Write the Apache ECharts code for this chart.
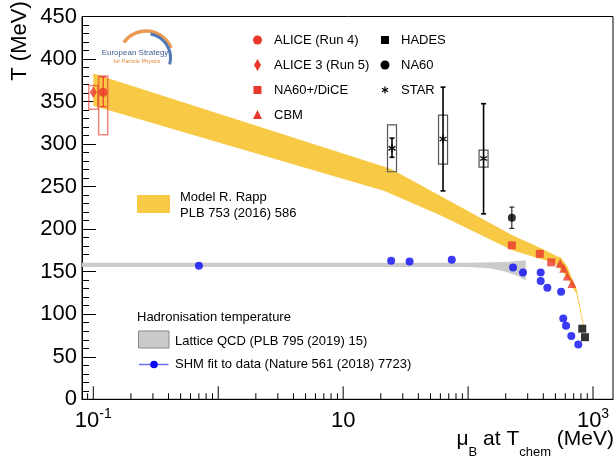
<!DOCTYPE html>
<html><head><meta charset="utf-8">
<script src="https://cdn.jsdelivr.net/npm/echarts@6/dist/echarts.min.js"></script>
<style>html,body{margin:0;padding:0;background:#fff}#c{width:616px;height:462px}</style>
</head><body><div id="c"></div>
<script>
const FONT = '"Liberation Sans", Arial, Helvetica, sans-serif';

// ---------- data (muB in MeV, T in MeV) ----------
const aliceRun4 = [[0.12, 361]];
const aliceRun4Stat = [[0.12, 344, 379]];
const aliceRun4Sys = [[0.12, 311, 380]];
const alice3 = [[0.1, 361]];
const alice3Sys = [[0.1, 341, 369]];
const na60plus = [[224, 181], [375, 171], [463, 161]];
const cbm = [[545, 160], [583, 154], [622, 145], [678, 136]];
const hades = [[820, 83], [862, 73]];
const na60 = [[224, 213.5]];
const na60Stat = [[224, 201, 226]];
const star = [[24.6, 295], [63, 306], [133, 283]];
const starStat = [[24.6, 284.5, 307], [63, 245, 367], [133, 218, 347.5]];
const starSys = [[24.6, 267.5, 322.5], [63, 276.5, 334], [133, 273, 293]];
const shm = [[0.7, 157], [24.2, 163], [34, 162], [74, 164], [229, 155], [275, 149],
             [381, 149], [381, 139], [431, 131], [555, 126.5], [578, 95], [608, 86.5],
             [670, 74.5], [762, 64.5]];
const rappTop = [[0.1, 383], [24, 271], [58.7, 240], [224, 193], [380, 178], [470, 171],
                 [520, 168], [551, 167], [622, 156], [700, 138], [740, 129], [850, 85]];
const rappBottom = [[0.1, 345], [21.4, 245], [58.7, 217], [224, 175.5], [380, 165], [460, 162],
                    [502, 159], [586, 148], [662, 136], [704, 128.5], [735, 125], [846, 82]];
const lqcdTop = [[0.0812, 160.5], [100, 160.5], [200, 161.5], [290, 163.5]];
const lqcdBottom = [[0.0812, 155.5], [100, 155.5], [150, 154], [200, 150], [250, 145], [290, 139.5]];
const xMajorTicks = [0.1, 1, 10, 100, 1000];
const xMinorTicks = [0.09, 0.2, 0.3, 0.4, 0.5, 0.6, 0.7, 0.8, 0.9,
                     2, 3, 4, 5, 6, 7, 8, 9,
                     20, 30, 40, 50, 60, 70, 80, 90,
                     200, 300, 400, 500, 600, 700, 800, 900];
const xTickLabels = {'-1': '{b|10}{s|-1}', '1': '{b|10}', '3': '{b|10}{s|3}'};
const yMin = 0, yMax = 450, yStep = 50;

// ---------- colours ----------
const RED = '#e8382b', BLUE = '#0a0af5', YEL = '#f7c945', GRAY = '#cbcbcb';

function bandRender(top, bottom, fill) {
  return (params, api) => {
    const pts = top.concat(bottom.slice().reverse()).map(p => api.coord(p));
    return {type: 'polygon', shape: {points: pts}, style: {fill: fill}};
  };
}
function errRender(cap, color, lw) {
  return (params, api) => {
    const x = api.value(0), a = api.coord([x, api.value(1)]), b = api.coord([x, api.value(2)]);
    const st = {stroke: color, lineWidth: lw};
    return {type: 'group', children: [
      {type: 'line', shape: {x1: a[0], y1: a[1], x2: b[0], y2: b[1]}, style: st},
      {type: 'line', shape: {x1: a[0] - cap, y1: a[1], x2: a[0] + cap, y2: a[1]}, style: st},
      {type: 'line', shape: {x1: b[0] - cap, y1: b[1], x2: b[0] + cap, y2: b[1]}, style: st}
    ]};
  };
}
function boxRender(w, color, lw) {
  return (params, api) => {
    const x = api.value(0), a = api.coord([x, api.value(1)]), b = api.coord([x, api.value(2)]);
    return {type: 'rect', shape: {x: a[0] - w / 2, y: b[1], width: w, height: a[1] - b[1]},
            style: {fill: 'none', stroke: color, lineWidth: lw}};
  };
}
function asteriskRender(r) {
  return (params, api) => {
    const p = api.coord([api.value(0), api.value(1)]);
    const ch = [];
    [90, 30, 150].forEach(d => {
      const t = d * Math.PI / 180, dx = r * Math.cos(t), dy = r * Math.sin(t);
      ch.push({type: 'line', shape: {x1: p[0] - dx, y1: p[1] - dy, x2: p[0] + dx, y2: p[1] + dy},
               style: {stroke: '#000', lineWidth: 1.3}});
    });
    return {type: 'group', children: ch};
  };
}
function tickRender(len) {
  return (params, api) => {
    const p = api.coord([api.value(0), yMin]);
    return {type: 'line', shape: {x1: p[0], y1: p[1], x2: p[0], y2: p[1] - len},
            style: {stroke: '#000', lineWidth: 1}};
  };
}

const chart = echarts.init(document.getElementById('c'), null, {renderer: 'canvas'});
const txt = (x, y, s, size, extra) => Object.assign({type: 'text', x: x, y: y,
  style: Object.assign({text: s, fontSize: size, fontFamily: FONT, fill: '#000', verticalAlign: 'middle'}, extra || {})});

chart.setOption({
  animation: false,
  backgroundColor: '#fff',
  grid: {left: 82, right: 2, top: 16.5, bottom: 62.7, show: true, borderColor: '#000', borderWidth: 1},
  xAxis: {
    type: 'log', logBase: 10, min: 0.0812, max: 1445,
    axisLine: {show: true, lineStyle: {color: '#000', width: 1}},
    axisTick: {show: false}, splitLine: {show: false}, minorTick: {show: false},
    axisLabel: {
      margin: 8, color: '#000',
      formatter: v => {
        const l = Math.log10(v), r = Math.round(l);
        if (Math.abs(l - r) > 1e-6) return '';
        return xTickLabels[String(r)] || '';
      },
      rich: {
        b: {fontSize: 22, fontFamily: FONT, color: '#000', lineHeight: 28},
        s: {fontSize: 14, fontFamily: FONT, color: '#000', lineHeight: 16, verticalAlign: 'top'}
      }
    }
  },
  yAxis: {
    type: 'value', min: yMin, max: yMax, interval: yStep,
    axisLine: {show: true, lineStyle: {color: '#000', width: 1}},
    axisTick: {show: true, inside: true, length: 14, lineStyle: {color: '#000'}},
    minorTick: {show: true, splitNumber: 5, length: 7, lineStyle: {color: '#000'}},
    splitLine: {show: false},
    axisLabel: {fontSize: 22, fontFamily: FONT, color: '#000', margin: 5}
  },
  series: [
    {type: 'custom', name: 'Rapp', renderItem: bandRender(rappTop, rappBottom, YEL), data: [[1, 200]], z: 1, silent: true, clip: true},
    {type: 'custom', name: 'LQCD', renderItem: bandRender(lqcdTop, lqcdBottom, GRAY), data: [[1, 158]], z: 1, silent: true, clip: true},
    {type: 'custom', renderItem: tickRender(13), data: xMajorTicks.map(v => [v, yMin]), z: 5, silent: true},
    {type: 'custom', renderItem: tickRender(6), data: xMinorTicks.map(v => [v, yMin]), z: 5, silent: true},
    {type: 'custom', renderItem: boxRender(9, 'rgba(232,56,43,0.6)', 1.5), data: alice3Sys, encode: {x: 0, y: [1, 2]}, z: 2},
    {type: 'custom', renderItem: boxRender(9, 'rgba(232,56,43,0.6)', 1.5), data: aliceRun4Sys, encode: {x: 0, y: [1, 2]}, z: 2},
    {type: 'custom', renderItem: errRender(3, RED, 1.2), data: aliceRun4Stat, encode: {x: 0, y: [1, 2]}, z: 3},
    {type: 'custom', renderItem: boxRender(9, '#555', 1.2), data: starSys, encode: {x: 0, y: [1, 2]}, z: 2},
    {type: 'custom', renderItem: errRender(2.5, '#000', 1.6), data: starStat, encode: {x: 0, y: [1, 2]}, z: 3},
    {type: 'custom', renderItem: errRender(2.5, '#000', 1), data: na60Stat, encode: {x: 0, y: [1, 2]}, z: 3},
    {type: 'custom', renderItem: asteriskRender(4), data: star, z: 4},
    {type: 'scatter', name: 'ALICE (Run 4)', data: aliceRun4, symbol: 'circle', symbolSize: 9, itemStyle: {color: RED}, z: 4},
    {type: 'scatter', name: 'ALICE 3 (Run 5)', data: alice3, symbol: 'diamond', symbolSize: [7, 12], itemStyle: {color: RED}, z: 4},
    {type: 'scatter', name: 'NA60+/DiCE', data: na60plus, symbol: 'rect', symbolSize: 8, itemStyle: {color: RED}, z: 4},
    {type: 'scatter', name: 'CBM', data: cbm, symbol: 'triangle', symbolSize: 9, itemStyle: {color: RED}, z: 4},
    {type: 'scatter', name: 'HADES', data: hades, symbol: 'rect', symbolSize: 8, itemStyle: {color: '#000'}, z: 4},
    {type: 'scatter', name: 'NA60', data: na60, symbol: 'circle', symbolSize: 8, itemStyle: {color: '#000'}, z: 4},
    {type: 'scatter', name: 'SHM', data: shm, symbol: 'circle', symbolSize: 8, itemStyle: {color: BLUE}, z: 4}
  ],
  graphic: [
    // axis titles
    Object.assign(txt(20, 41, 'T (MeV)', 22, {align: 'center'}), {rotation: Math.PI / 2}),
    {type: 'text', right: 2, top: 429, style: {
      text: '{a|μ}{sub|B}{a| at T}{sub|chem}{a| (MeV)}',
      rich: {
        a: {fontSize: 21, fontFamily: FONT, fill: '#000', lineHeight: 38},
        sub: {fontSize: 13, fontFamily: FONT, fill: '#000', lineHeight: 14, verticalAlign: 'bottom'}
      }}},
    // top legend
    {type: 'circle', shape: {cx: 257.5, cy: 40, r: 4.5}, style: {fill: RED}},
    txt(274, 40, 'ALICE (Run 4)', 13),
    {type: 'polygon', shape: {points: [[257.5, 59], [261, 65], [257.5, 71], [254, 65]]}, style: {fill: RED}},
    txt(274, 65, 'ALICE 3 (Run 5)', 13),
    {type: 'rect', shape: {x: 253.5, y: 86, width: 8, height: 8}, style: {fill: RED}},
    txt(274, 90, 'NA60+/DiCE', 13),
    {type: 'polygon', shape: {points: [[257.5, 110], [262, 119], [253, 119]]}, style: {fill: RED}},
    txt(274, 115, 'CBM', 13),
    {type: 'rect', shape: {x: 381, y: 36, width: 8, height: 8}, style: {fill: '#000'}},
    txt(401, 40, 'HADES', 13),
    {type: 'circle', shape: {cx: 385, cy: 65, r: 4.5}, style: {fill: '#000'}},
    txt(401, 65, 'NA60', 13),
    {type: 'line', shape: {x1: 385, y1: 86.5, x2: 385, y2: 93.5}, style: {stroke: '#000', lineWidth: 1.2}},
    {type: 'line', shape: {x1: 382, y1: 88.2, x2: 388, y2: 91.8}, style: {stroke: '#000', lineWidth: 1.2}},
    {type: 'line', shape: {x1: 382, y1: 91.8, x2: 388, y2: 88.2}, style: {stroke: '#000', lineWidth: 1.2}},
    txt(401, 90, 'STAR', 13),
    // Rapp legend
    {type: 'rect', shape: {x: 137, y: 195, width: 33, height: 18}, style: {fill: YEL}},
    txt(180, 197, 'Model R. Rapp', 13),
    txt(180, 213, 'PLB 753 (2016) 586', 13),
    // hadronisation legend
    txt(137, 317, 'Hadronisation temperature', 13),
    {type: 'rect', shape: {x: 138.5, y: 331, width: 30.5, height: 17}, style: {fill: GRAY, stroke: '#888', lineWidth: 1}},
    txt(175, 341.5, 'Lattice QCD (PLB 795 (2019) 15)', 13),
    {type: 'line', shape: {x1: 139, y1: 364.5, x2: 168.5, y2: 364.5}, style: {stroke: '#6b6bff', lineWidth: 1.5}},
    {type: 'circle', shape: {cx: 154, cy: 364.5, r: 3.8}, style: {fill: BLUE}},
    txt(175, 364.5, 'SHM fit to data (Nature 561 (2018) 7723)', 13),
    // logo
    {type: 'arc', shape: {cx: 146, cy: 58, r: 27, startAngle: 3.75, endAngle: 5.9, clockwise: true},
     style: {stroke: '#ec9a52', lineWidth: 3.5, fill: 'none'}},
    {type: 'arc', shape: {cx: 146, cy: 58, r: 24.5, startAngle: 4.9, endAngle: 6.55, clockwise: true},
     style: {stroke: '#4f78b5', lineWidth: 3, fill: 'none'}},
    txt(135, 53, 'European Strategy', 8, {align: 'center', fill: '#3d5d92'}),
    txt(137, 61.5, 'for Particle Physics', 5.5, {align: 'center', fill: '#e0883c'})
  ]
});
</script></body></html>
